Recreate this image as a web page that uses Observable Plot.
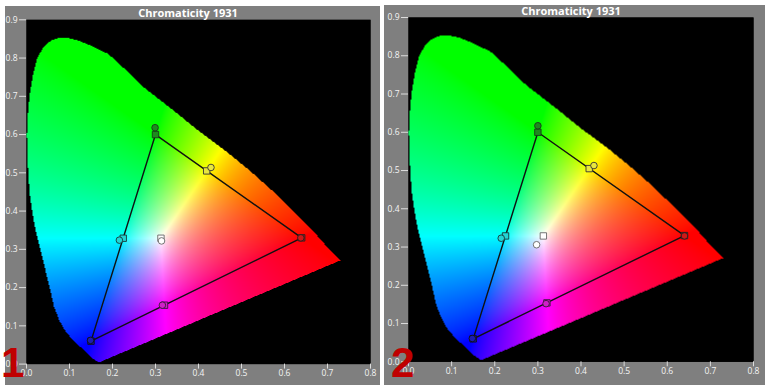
<!DOCTYPE html>
<html><head><meta charset="utf-8">
<script src="https://cdn.jsdelivr.net/npm/d3@7"></script>
<script src="https://cdn.jsdelivr.net/npm/@observablehq/plot@0.6"></script>
<style>
body{margin:0;background:#fff;width:770px;height:391px;position:relative;overflow:hidden;font-family:"Open Sans","Noto Sans",sans-serif;}
.panel{position:absolute;background:#7f7f7f;}
.panel svg{position:absolute;left:0;top:0;}
.title{position:absolute;text-align:center;color:#fff;font-weight:700;font-size:11px;line-height:12px;z-index:2;}
.num{position:absolute;color:#c00000;font-family:"Liberation Sans",Arial,sans-serif;font-weight:700;font-size:42px;line-height:42px;z-index:3;}
</style></head><body>
<div id="p1" class="panel" style="left:5px;top:6px;width:375px;height:379px;"><div class="title" style="left:0;top:0.5px;width:366px;">Chromaticity 1931</div></div>
<div id="p2" class="panel" style="left:384px;top:5px;width:381px;height:380px;"><div class="title" style="left:0;top:-0.5px;width:374px;">Chromaticity 1931</div></div>
<div class="num" style="left:1px;top:342px;">1</div>
<div class="num" style="left:391px;top:342px;">2</div>
<script>
// spectral locus boundary
const locusX = [0.168,0.150,0.128,0.106,0.088,0.076,0.064,0.054,0.043,0.032,0.021,0.013,0.007,0.004,0.002,0.001,0.003,0.007,0.014,0.025,0.039,0.056,0.075,0.095,0.118,0.145,0.190,0.230,0.272,0.342,0.400,0.460,0.520,0.570,0.620,0.665,0.700,0.730];
const locusY = [0.004,0.018,0.042,0.065,0.090,0.115,0.150,0.200,0.250,0.300,0.350,0.400,0.450,0.500,0.550,0.600,0.650,0.700,0.750,0.800,0.828,0.845,0.853,0.853,0.847,0.835,0.811,0.770,0.724,0.663,0.610,0.560,0.505,0.455,0.400,0.350,0.305,0.271];

// patches
const patchNames = ["Red","Green","Blue","Cyan","Magenta","Yellow","White"];
const patchFill  = ["#d01818","#1e8a1e","#1c1cb0","#22d4d4","#d020c8","#e8e640","#ffffff"];
const patchStroke= ["#222","#1a3a1a","#111","#1a3a3a","#3a1a3a","#333","#666"];
const targetX = [0.640,0.300,0.150,0.225,0.321,0.419,0.3127];
const targetY = [0.330,0.600,0.060,0.329,0.154,0.505,0.329];
const meas1X  = [0.638,0.299,0.149,0.216,0.316,0.429,0.314];
const meas1Y  = [0.330,0.618,0.062,0.324,0.154,0.514,0.322];
const meas2X  = [0.640,0.300,0.148,0.215,0.319,0.430,0.297];
const meas2Y  = [0.329,0.617,0.061,0.323,0.152,0.513,0.306];

const gamutOrder = [0,1,2,0]; // R -> G -> B -> R
const xTicks = [0,0.1,0.2,0.3,0.4,0.5,0.6,0.7,0.8];
const yTicks = [0,0.1,0.2,0.3,0.4,0.5,0.6,0.7,0.8,0.9];

const poly = locusX.map((x,i)=>[x, locusY[i]]);
function gam(c){ return Math.pow(c, 0.75); }
function chroma(x, y){
  if (!d3.polygonContains(poly,[x,y])) return "black";
  const X = x/y, Y = 1, Z = (1-x-y)/y;
  let r = 3.2406*X - 1.5372*Y - 0.4986*Z;
  let g = -0.9689*X + 1.8758*Y + 0.0415*Z;
  let b = 0.0557*X - 0.2040*Y + 1.0570*Z;
  r = Math.max(r,0); g = Math.max(g,0); b = Math.max(b,0);
  const m = Math.max(r,g,b) || 1;
  return `rgb(${Math.round(255*gam(r/m))},${Math.round(255*gam(g/m))},${Math.round(255*gam(b/m))})`;
}

function rows(xs, ys){ return xs.map((x,i)=>({x, y: ys[i], fill: patchFill[i], stroke: patchStroke[i], name: patchNames[i]})); }

function chart(w, h, m, measX, measY){
  const targets = rows(targetX, targetY);
  const meas = rows(measX, measY);
  const tri = gamutOrder.map(i => targets[i]);
  return Plot.plot({
    width: w, height: h,
    marginLeft: m[0], marginRight: m[1], marginTop: m[2], marginBottom: m[3],
    x: {domain: [0, 0.8], label: null},
    y: {domain: [0, 0.9], label: null},
    color: {type: "identity"},
    style: {background: "transparent", color: "#f4f4f4", fontSize: "8.5px", fontFamily: "'Open Sans','Noto Sans',sans-serif", overflow: "visible"},
    marks: [
      Plot.frame({fill: "black"}),
      Plot.raster({fill: chroma, x1: 0, x2: 0.8, y1: 0, y2: 0.9, pixelSize: 1}),
      Plot.line(tri, {x: "x", y: "y", stroke: "#111", strokeWidth: 1.4}),
      Plot.dot(targets, {x: "x", y: "y", symbol: "square", r: 3.6, fill: "fill", stroke: "stroke", strokeWidth: 0.9}),
      Plot.dot(meas, {x: "x", y: "y", symbol: "circle", r: 3.3, fill: "fill", stroke: "stroke", strokeWidth: 0.9}),
      Plot.axisX({ticks: xTicks, tickSize: 5, tickPadding: 1, label: null, stroke: "#dddddd"}),
      Plot.axisY({ticks: yTicks, tickSize: 7, tickPadding: 2, label: null, stroke: "#dddddd"})
    ]
  });
}

document.getElementById("p1").appendChild(chart(375, 379, [21, 10, 13.3, 21.4], meas1X, meas1Y));
document.getElementById("p2").appendChild(chart(381, 380, [24, 12, 12, 23.7], meas2X, meas2Y));
</script>
</body></html>
